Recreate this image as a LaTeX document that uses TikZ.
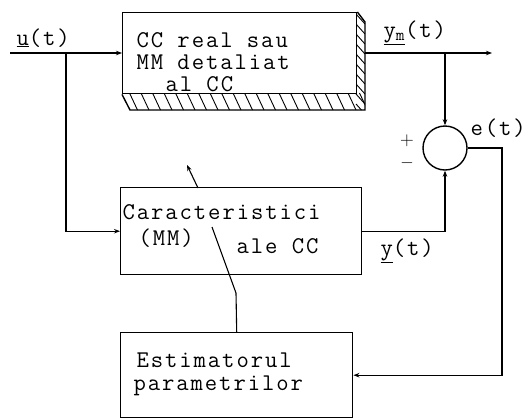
\documentclass[tikz,border=0pt]{standalone}
\usepackage{fontspec}
\setmonofont{Latin Modern Mono}[LetterSpace=8]
\usetikzlibrary{arrows.meta}
\begin{document}
\begin{tikzpicture}[x=1pt,y=-1pt,
  line width=1.1pt,
  arr/.style={-{Stealth[length=6pt,width=4.5pt]}},
  blk/.style={draw,line width=1.4pt,inner sep=0pt},
  txt/.style={anchor=base west,inner sep=0pt,font=\ttfamily\fontsize{24}{28}\selectfont},
  sgn/.style={inner sep=0pt,font=\fontsize{19}{19}\selectfont},
  hatch/.style={line width=0.9pt}]
\useasboundingbox (0,0) rectangle (526,418);

% blocks
\node[blk,minimum width=234pt,minimum height=81pt,anchor=north west] (top) at (122,12) {};
\draw[line width=1.4pt] (top.north east) -- (365,22) -- (365,110) -- (130,110) -- (top.south west);
\begin{scope}
  \clip (122,93) -- (356,93) -- (356,12) -- (365,22) -- (365,110) -- (130,110) -- cycle;
  \foreach \x in {118,129.5,...,372} \draw[hatch] (\x,93) -- ++(8,17);
  \foreach \y in {4,14,...,112} \draw[hatch] (356,\y) -- ++(9,10);
\end{scope}
\node[blk,minimum width=241pt,minimum height=87pt,anchor=north west] (mid) at (120,187) {};
\node[blk,minimum width=232pt,minimum height=85pt,anchor=north west] (est) at (120,332) {};
\node[draw,circle,line width=1.4pt,minimum size=44pt,inner sep=0pt] (sum) at (445,148)
  {\fontsize{22}{22}\selectfont$\mathbf{\Sigma}$};

% texts
\node[txt] (t1) at (136,47) {CC real sau};
\node[txt] (t2) at (136,69) {MM detaliat};
\node[txt] (t3) at (165,91) {al CC};
\node[txt] (c1) at (122,219) {Caracteristici};
\node[txt] (c2) at (138,245) {(MM)};
\node[txt] (c3) at (236,253) {ale CC};
\node[txt] (e1) at (136,367) {Estimatorul};
\node[txt] (e2) at (133,390) {parametrilor};
\node[txt] (lu) at (16,45) {\underline{u}(t)};
\node[txt] (ly) at (383,37) {\underline{y\textsubscript{m}}(t)};
\node[txt] (le) at (470,135) {e(t)};
\node[txt] (lyy) at (380,255) {\underline{y}(t)};
\node[sgn] (plus) at (407,141) {+};
\node[sgn] (minus) at (407,163) {$-$};

% connectors
\coordinate (in) at (10,53);
\coordinate (j1) at (66,53);
\coordinate (oe) at (365,53);
\coordinate (out) at (492,53);
\coordinate (j2) at (445,53);
\coordinate (fb) at (502,148);
\coordinate (tip) at (187,165);
\coordinate (d1) at (198,188);
\coordinate (d2) at (212,227);
\coordinate (d3) at (236,293);
\draw[arr] (in) -- (in -| top.west);
\draw[arr] (j1) |- (mid.west);
\draw[arr] (oe) -- (out);
\draw[arr] (j2) -- (sum.north);
\draw[arr] (mid.east) -| (sum.south);
\draw[arr] (sum.east) -| (fb) |- (est.east);
\draw[arr] (d1) -- (tip);
\draw (d2) -- (d3) -- (est.north);
\end{tikzpicture}
\end{document}
